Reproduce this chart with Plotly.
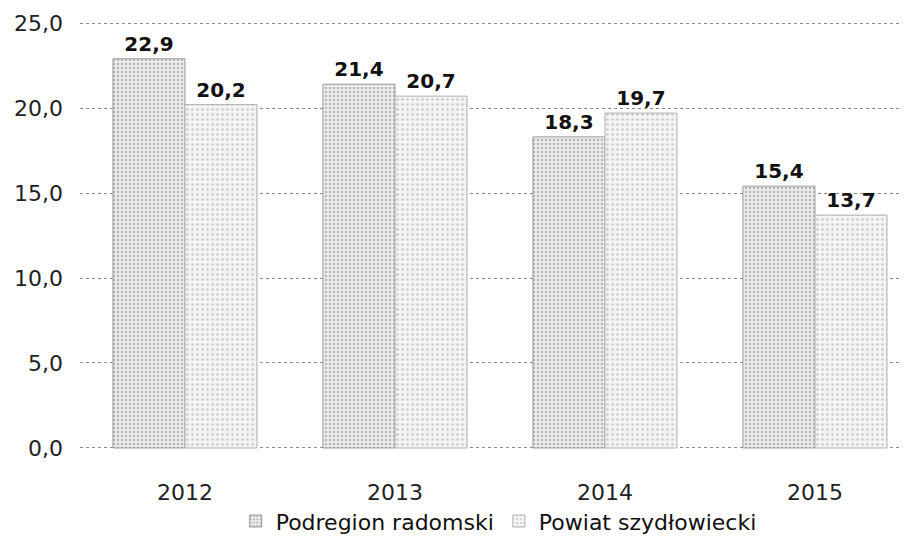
import plotly.graph_objects as go

years = ["2012", "2013", "2014", "2015"]
podregion = [22.9, 21.4, 18.3, 15.4]
powiat = [20.2, 20.7, 19.7, 13.7]
y_ticks = [0, 5, 10, 15, 20, 25]

FONT = "DejaVu Sans, sans-serif"
xs = list(range(len(years)))

fig = go.Figure()
fig.add_trace(go.Bar(
    x=xs, y=podregion, name="Podregion radomski",
    marker=dict(color="#ececec", line=dict(color="#9a9a9a", width=1),
                pattern=dict(shape=".", fgcolor="#808080", size=4, solidity=0.3)),
    texttemplate="<b>%{y:.1f}</b>", textposition="outside", cliponaxis=False,
    textfont=dict(size=20, color="#111", family=FONT),
))
fig.add_trace(go.Bar(
    x=xs, y=powiat, name="Powiat szydłowiecki",
    marker=dict(color="#f4f4f4", line=dict(color="#b0b0b0", width=1),
                pattern=dict(shape=".", fgcolor="#a0a0a0", size=5, solidity=0.22)),
    texttemplate="<b>%{y:.1f}</b>", textposition="outside", cliponaxis=False,
    textfont=dict(size=20, color="#111", family=FONT),
))

# page body has an 8px margin, so the figure is sized to fit the window
fig.update_layout(
    width=901, height=535,
    margin=dict(l=72, r=0, t=14, b=94, autoexpand=False),
    paper_bgcolor="white", plot_bgcolor="white",
    barmode="group", bargap=0.314, bargroupgap=0,
    separators=", ",
    font=dict(family=FONT, color="#222", size=22),
    showlegend=True,
    legend=dict(orientation="h", x=0.505, xanchor="center",
                yref="container", y=0.08, yanchor="top",
                font=dict(size=22, color="#111"), itemwidth=30, traceorder="normal"),
    xaxis=dict(range=[-0.5, 3.448], tickvals=xs, ticktext=years, showgrid=False,
               zeroline=False, showline=False, ticks="", ticklabelstandoff=28,
               tickfont=dict(size=22), automargin=False),
    yaxis=dict(range=[-0.06, 25.06], tickvals=y_ticks, tickformat=".1f", showgrid=True,
               gridcolor="#8a8a8a", griddash="dot", gridwidth=1, zeroline=False,
               showline=False, ticks="", ticklabelstandoff=16,
               tickfont=dict(size=22), automargin=False),
)

fig.write_html("out.html")
